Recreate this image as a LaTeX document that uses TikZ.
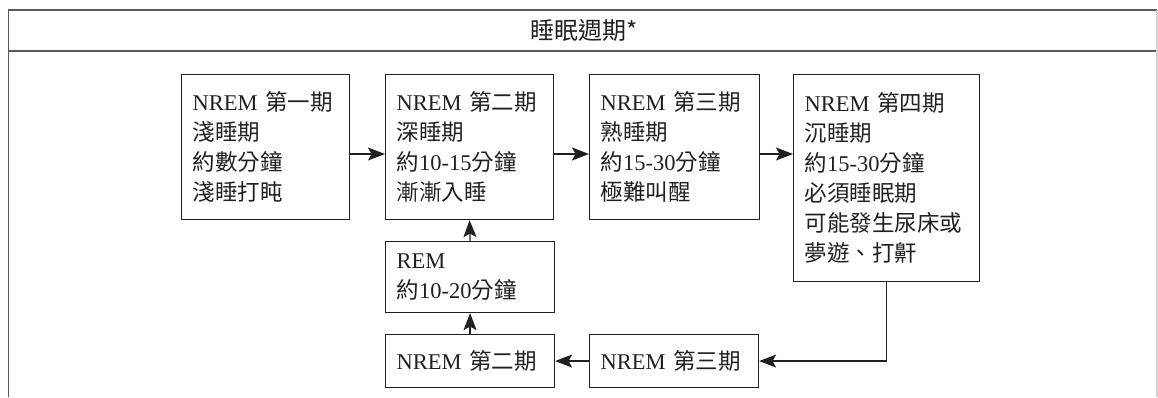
\documentclass[tikz,border=0pt]{standalone}
\usepackage{fontspec}
\setmainfont{Liberation Serif}
\newfontfamily\cjk{Noto Sans CJK TC}
\newcommand{\cj}[1]{{\cjk #1}}
\usetikzlibrary{arrows.meta,calc}
\definecolor{ink}{HTML}{231F20}
\definecolor{frame}{HTML}{5A5A5A}
\begin{document}
\begin{tikzpicture}[x=1pt,y=-1pt,
  stagebox/.style={draw=ink,line width=1.1pt,anchor=north west,inner xsep=11pt,inner ysep=0pt,
    align=left,text=ink,font=\fontsize{22.5}{30}\selectfont},
  arr/.style={draw=ink,line width=1.2pt,-{Stealth[length=17pt,width=13pt,inset=3.5pt]}}]
\useasboundingbox (0,0) rectangle (1158,397);
% outer frame
\draw[frame,line width=1.4pt] (8.5,397) -- (8.5,10) -- (1157,10);
\draw[frame,line width=1.4pt] (8.5,51) -- (1157,51);
\draw[gray!35,line width=1.2pt] (1157,10) -- (1157,397);
\node[text=ink,font=\cjk\fontsize{24}{28}\selectfont] (title) at (584,30) {睡眠週期*};
% stage boxes
\node[stagebox,minimum width=168,minimum height=145,text width=146] (b1) at (181,74)
  {NREM \cj{第一期}\\\cj{淺睡期}\\\cj{約數分鐘}\\\cj{淺睡打盹}};
\node[stagebox,minimum width=168,minimum height=145,text width=146] (b2) at (385,74)
  {NREM \cj{第二期}\\\cj{深睡期}\\\cj{約}10-15\cj{分鐘}\\\cj{漸漸入睡}};
\node[stagebox,minimum width=170,minimum height=145,text width=148] (b3) at (589,74)
  {NREM \cj{第三期}\\\cj{熟睡期}\\\cj{約}15-30\cj{分鐘}\\\cj{極難叫醒}};
\node[stagebox,minimum width=186,minimum height=207,text width=164] (b4) at (793,74)
  {NREM \cj{第四期}\\\cj{沉睡期}\\\cj{約}15-30\cj{分鐘}\\\cj{必須睡眠期}\\\cj{可能發生尿床或}\\\cj{夢遊、打鼾}};
\node[stagebox,minimum width=169,minimum height=71,text width=147] (rem) at (385,241)
  {REM\\\cj{約}10-20\cj{分鐘}};
\node[stagebox,minimum width=169,minimum height=53,text width=147] (n2b) at (385,334)
  {NREM \cj{第二期}};
\node[stagebox,minimum width=169,minimum height=53,text width=147] (n3b) at (589,334)
  {NREM \cj{第三期}};
% connectors
\draw[arr] ([yshift=-80pt]b1.north east) -- ([yshift=-80pt]b2.north west);
\draw[arr] ([yshift=-80pt]b2.north east) -- ([yshift=-80pt]b3.north west);
\draw[arr] ([yshift=-80pt]b3.north east) -- ([yshift=-80pt]b4.north west);
\draw[arr] (b4.south) |- (n3b.east);
\draw[arr] (n3b.west) -- (n2b.east);
\draw[arr] (n2b.north) -- (rem.south);
\draw[arr] (rem.north) -- (b2.south);
\end{tikzpicture}
\end{document}
